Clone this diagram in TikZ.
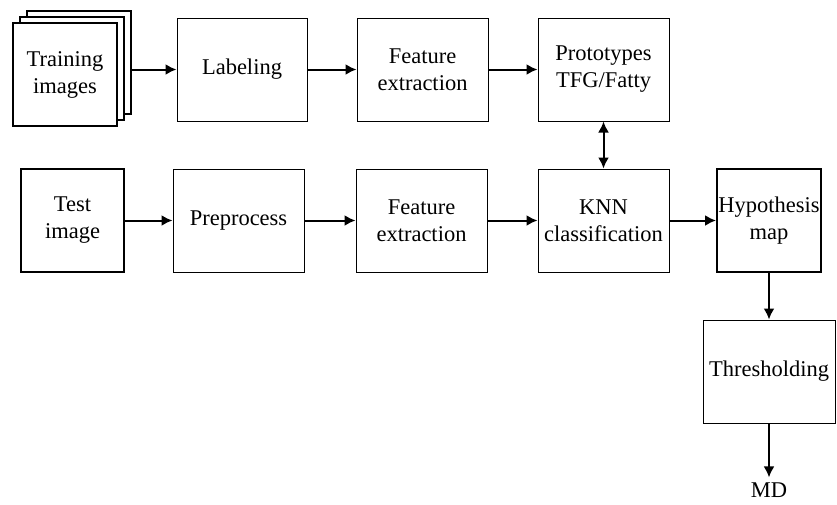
\documentclass[tikz,border=0pt]{standalone}
\usepackage{fontspec}
\setmainfont{Liberation Serif}
\usetikzlibrary{arrows.meta}

\begin{document}
\begin{tikzpicture}[x=1pt, y=-1pt]
        \tikzset{every node/.style = {font=\fontsize{22.5}{27}\selectfont, align=center, inner sep=0pt}}
        \tikzset{box/.style = {shape=rectangle, draw, line width=1pt, fill=white, minimum width=131pt, minimum height=103pt}}
        \tikzset{boldbox/.style = {box, line width=2pt, minimum width=104pt}}
        \tikzset{flow/.style = {-{Latex[length=11pt, width=11pt]}, line width=2pt}}

        \useasboundingbox (0, 0) rectangle (837, 504);

        \node[boldbox] (trainc) at (79, 62.5) {};
        \node[boldbox] (trainb) at (72, 68.5) {};
        \node[boldbox] (train) at (65, 74.5) {Training\\images};
        \node[box, minimum width=130pt] (lab) at (242, 69.5) {Labeling};
        \node[box] (feata) at (422.5, 69.5) {Feature\\extraction};
        \node[box] (proto) at (603.5, 69.5) {Prototypes\\TFG/Fatty};

        \node[boldbox, minimum width=103pt] (test) at (72.5, 220.5) {Test\\image};
        \node[box] (prep) at (238.5, 220.5) {Preprocess};
        \node[box] (featb) at (421.5, 220.5) {Feature\\extraction};
        \node[box] (knn) at (603.5, 220.5) {KNN\\classification};
        \node[boldbox] (hyp) at (769, 220.5) {Hypothesis\\map};

        \node[box, minimum width=132pt] (thr) at (769, 371.5) {Thresholding};
        \node[inner sep=5pt] (md) at (769, 490) {MD};

        \draw[flow] (trainc.east |- lab) -- (lab);
        \draw[flow] (lab) edge (feata);
        \draw[flow] (feata) edge (proto);
        \draw[flow, {Latex[length=11pt, width=11pt]}-{Latex[length=11pt, width=11pt]}] (proto) edge (knn);

        \draw[flow] (test) edge (prep);
        \draw[flow] (prep) edge (featb);
        \draw[flow] (featb) edge (knn);
        \draw[flow] (knn) edge (hyp);

        \draw[flow] (hyp) edge (thr);
        \draw[flow] (thr) edge (md);

    \end{tikzpicture}
\end{document}
